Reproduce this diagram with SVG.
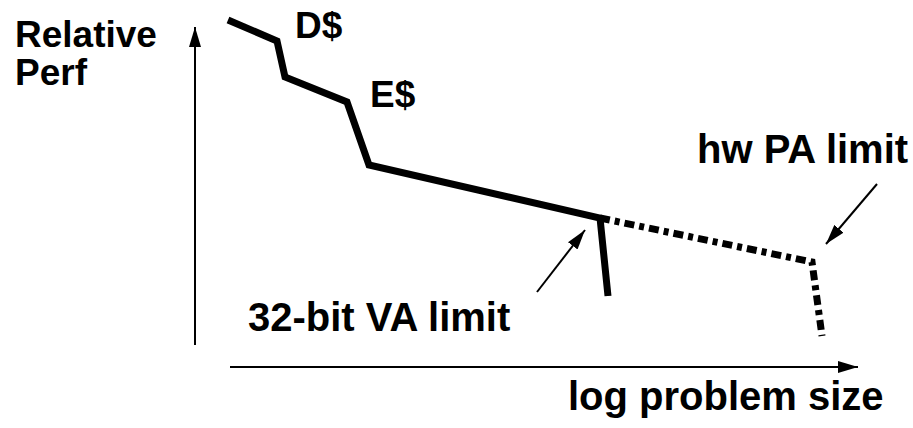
<svg xmlns="http://www.w3.org/2000/svg" width="913" height="428" viewBox="0 0 913 428">
<defs>
<marker id="ah2" viewBox="0 0 10 10" refX="10" refY="5" markerWidth="20" markerHeight="12" markerUnits="userSpaceOnUse" orient="auto" preserveAspectRatio="none">
<path d="M0,0 L10,5 L0,10 z" fill="#000"/>
</marker>
</defs>
<style>
text{font-family:"Liberation Sans",Arial,sans-serif;font-weight:bold;fill:#000}
.big{font-size:40px}
.mid{font-size:37px}
.axis{stroke:#000;stroke-width:2;fill:none}
.thin{stroke:#000;stroke-width:2;fill:none}
.curve{stroke:#000;stroke-width:7;fill:none;stroke-linejoin:miter}
.dash{stroke:#000;stroke-width:7;fill:none;stroke-dasharray:10 5 5 5}
</style>
<rect width="913" height="428" fill="#fff"/>
<g id="connectors">
<line class="axis" x1="195" y1="345" x2="195" y2="27" marker-end="url(#ah2)"/>
<line class="axis" x1="230" y1="367" x2="858" y2="367" marker-end="url(#ah2)"/>
<polyline class="curve" points="228,20 277,41 285,77 347,102 369,165 600,218 608,296"/>
<polyline class="dash" points="600,218 812,262 822,336"/>
<line class="thin" x1="537" y1="292" x2="585" y2="230" marker-end="url(#ah2)"/>
<line class="thin" x1="877" y1="184" x2="826" y2="244" marker-end="url(#ah2)"/>
</g>
<g id="label-relative-perf"><text class="mid" x="15" y="47">Relative</text><text class="mid" x="15" y="85">Perf</text></g>
<g id="label-d"><text class="mid" x="295" y="38">D$</text></g>
<g id="label-e"><text class="mid" x="370" y="107">E$</text></g>
<g id="label-hwpa"><text class="big" x="697" y="163">hw PA limit</text></g>
<g id="label-va"><text class="big" x="248" y="331">32-bit VA limit</text></g>
<g id="label-x"><text class="big" x="568" y="410">log problem size</text></g>
</svg>
